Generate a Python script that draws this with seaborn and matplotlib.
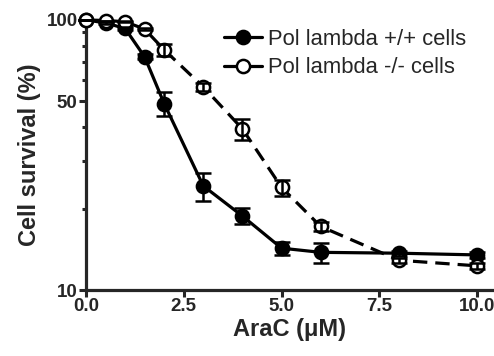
import numpy as np
import pandas as pd
import matplotlib
matplotlib.use('Agg')
import matplotlib.pyplot as plt
import seaborn as sbn
from matplotlib.lines import Line2D
from matplotlib.ticker import FixedLocator, NullFormatter

# Данные
arac_um = [0, 0.5, 1, 1.5, 2, 3, 4, 5, 6, 8, 10]
wt_survival = [100, 97.5, 93, 73, 49, 24.3, 18.8, 14.3, 13.8, 13.7, 13.5]
wt_err = [0, 0.5, 1, 1.5, 5, 2.9, 1.3, 0.8, 1.2, 0.3, 0.3]
ko_survival = [100, 99.5, 98.5, 92.5, 77.5, 56.5, 39.5, 24, 17.2, 12.9, 12.3]
ko_err = [0, 0, 0.5, 1, 4, 2, 3.5, 1.6, 0.7, 0.3, 0.3]
series_names = ['Pol lambda +/+ cells', 'Pol lambda -/- cells']

sbn.set_style('ticks')
plt.rcParams['font.family'] = ['Liberation Sans', 'DejaVu Sans']

df = pd.DataFrame({
    'AraC': arac_um * 2,
    'survival': wt_survival + ko_survival,
    'series': [series_names[0]] * len(arac_um) + [series_names[1]] * len(arac_um),
})

fig = plt.figure(figsize=(4.94, 3.56), dpi=100)
ax = fig.add_axes([0.174, 0.185, 0.826, 0.759])

sbn.lineplot(data=df, x='AraC', y='survival', hue='series', style='series',
             palette=['black', 'black'], dashes=[(1, 0), (4.5, 2.5)],
             markers=['o', 'o'], markersize=9.5, linewidth=2.3,
             markeredgecolor='black', markeredgewidth=1.8, ax=ax, zorder=3,
             legend=False, clip_on=False)

# Открытые кружки для -/- клеток
lines = ax.get_lines()
lines[1].set_markerfacecolor('white')

# Планки погрешностей
for yv, ev in [(wt_survival, wt_err), (ko_survival, ko_err)]:
    eb = ax.errorbar(arac_um, yv, yerr=ev, fmt='none', ecolor='black',
                     elinewidth=1.8, capsize=5.5, capthick=1.8, zorder=4)
    for art in eb.lines[1] + eb.lines[2]:
        art.set_clip_on(False)

ax.set_yscale('log')
ax.set_ylim(10, 100)
ax.set_xlim(0, 10.43)
ax.yaxis.set_major_locator(FixedLocator([10, 50, 100]))
ax.yaxis.set_minor_locator(FixedLocator([20, 30, 40, 60, 70, 80, 90]))
ax.yaxis.set_minor_formatter(NullFormatter())
ax.set_yticklabels(['10', '50', '100'])
ax.set_xticks([0, 2.5, 5, 7.5, 10])
ax.set_xticklabels(['0.0', '2.5', '5.0', '7.5', '10.0'])

for lab in ax.get_xticklabels() + ax.get_yticklabels():
    lab.set_fontweight('bold')
    lab.set_fontsize(13.5)
ax.tick_params(axis='both', which='major', width=2.2, length=5, pad=1)
ax.tick_params(axis='y', which='minor', width=2.2, length=3)

for side in ['left', 'bottom']:
    ax.spines[side].set_linewidth(2.3)
sbn.despine(ax=ax)

ax.set_xlabel('AraC (\u03bcM)', fontsize=17, fontweight='bold', labelpad=2)
ax.set_ylabel('Cell survival (%)', fontsize=17, fontweight='bold', labelpad=4)

# Легенда как в Prism: короткие сплошные линии с маркером
handles = [
    Line2D([], [], color='black', lw=2.3, marker='o', markersize=9.5,
           markerfacecolor='black', markeredgecolor='black', markeredgewidth=1.8),
    Line2D([], [], color='black', lw=2.3, marker='o', markersize=9.5,
           markerfacecolor='white', markeredgecolor='black', markeredgewidth=1.8),
]
fig.legend(handles, series_names, frameon=False, fontsize=15.8,
           handlelength=1.75, handletextpad=0.25, labelspacing=0.33,
           borderpad=0, borderaxespad=0, loc='upper left',
           bbox_to_anchor=(224 / 494, 1 - 29 / 356))

fig.savefig('out.png', dpi=100)
